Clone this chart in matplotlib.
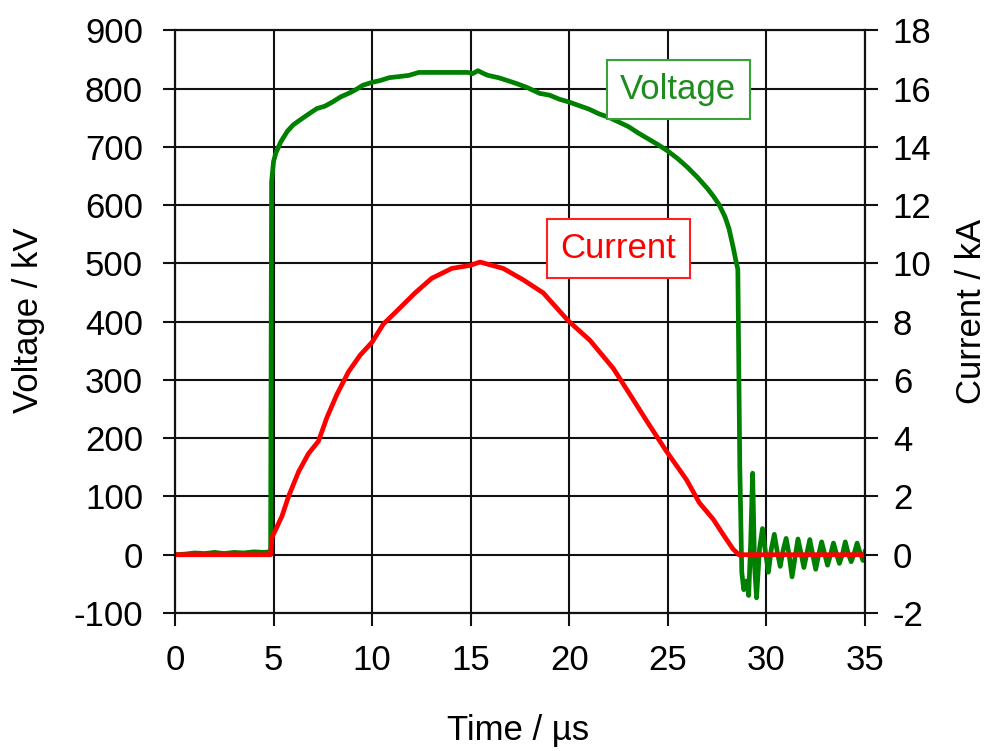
import matplotlib.pyplot as plt
from matplotlib.ticker import MultipleLocator

# voltage trace (kV) vs time (us)
t_v = [0, 0.5, 1.0, 1.5, 2.0, 2.5, 3.0, 3.5, 4.0, 4.5, 4.8,
       4.85, 4.9, 5.0, 5.12, 5.37, 5.7, 6.0, 6.37, 6.8, 7.2,
       7.6, 8.03, 8.4, 8.87, 9.2, 9.53, 10.0, 10.4, 10.87, 11.4,
       11.87, 12.37, 13.0, 13.5, 14.0, 14.5, 14.87, 15.1, 15.37, 15.6,
       15.87, 16.4, 16.87, 17.4, 17.87, 18.5, 19.0, 19.5, 20.0, 20.5,
       21.0, 21.5, 22.0, 22.5, 23.0, 23.5, 24.0, 24.5, 25.0, 25.5,
       26.0, 26.5, 27.0, 27.3, 27.6, 27.9, 28.1, 28.3, 28.45, 28.55,
       28.65, 28.75, 28.85, 29.0, 29.1, 29.2, 29.3, 29.4, 29.5, 29.65,
       29.8, 29.95, 30.1, 30.25, 30.4, 30.55, 30.7, 30.85, 31.0, 31.15,
       31.3, 31.45, 31.6, 31.75, 31.9, 32.05, 32.2, 32.35, 32.5, 32.65,
       32.8, 32.95, 33.1, 33.25, 33.4, 33.55, 33.7, 33.85, 34.0, 34.15,
       34.3, 34.45, 34.6, 34.75, 34.9, 35.0]
voltage = [0, 1, 3, 2, 4, 2, 4, 3, 5, 4, 5,
           5, 640, 675, 690, 709, 727, 738, 747, 757, 766,
           770, 778, 786, 793, 799, 806, 811, 814, 819, 821,
           823, 828, 828, 828, 828, 828, 828, 826, 831, 827,
           823, 819, 814, 808, 802, 792, 789, 782, 777, 771,
           765, 757, 751, 743, 735, 724, 714, 704, 693, 680,
           665, 648, 629, 616, 601, 580, 560, 530, 505, 490,
           150, -30, -60, -45, -70, 20, 140, -20, -74, 10,
           45, 5, -30, 10, 35, 5, -20, 8, 28, 0,
           -38, -5, 27, 3, -22, 2, 26, 0, -25, 0,
           22, 2, -18, 0, 20, 2, -15, 0, 22, 2,
           -12, 2, 20, 3, -10, 5]

# current trace (kA) vs time (us)
t_i = [0, 4.85, 4.92, 5.1, 5.43, 5.76, 6.27, 6.77, 7.28, 7.7,
       8.21, 8.8, 9.39, 10.0, 10.57, 11.33, 12.18, 13.02, 14.04, 15.0,
       15.47, 16.0, 16.65, 17.66, 18.68, 19.95, 21.05, 22.23, 23.08, 23.92,
       24.9, 25.95, 26.6, 27.3, 27.8, 28.3, 28.6, 35.0]
current = [0, 0, 0.6, 0.85, 1.33, 2.0, 2.85, 3.47, 3.9, 4.7,
           5.5, 6.28, 6.85, 7.3, 7.92, 8.42, 8.99, 9.49, 9.83, 9.94,
           10.05, 9.95, 9.83, 9.44, 8.99, 8.03, 7.36, 6.4, 5.5, 4.6,
           3.58, 2.57, 1.78, 1.22, 0.7, 0.2, 0, 0]

plt.rcParams['font.family'] = ['Liberation Sans', 'DejaVu Sans']
plt.rcParams['axes.unicode_minus'] = False
fs = 25
dark = '#111111'

fig = plt.figure(figsize=(9.88, 7.51), dpi=100)
ax = fig.add_axes([0.1771, 0.1838, 0.6984, 0.7756])
ax2 = ax.twinx()

ax.plot(t_v, voltage, color='#008000', lw=3.4, solid_joinstyle='round')
ax2.plot(t_i, current, color='#ff0000', lw=3.4, solid_joinstyle='round')

ax.set_xlim(0, 35)
ax.set_ylim(-100, 900)
ax2.set_ylim(-2, 18)
ax.xaxis.set_major_locator(MultipleLocator(5))
ax.yaxis.set_major_locator(MultipleLocator(100))
ax2.yaxis.set_major_locator(MultipleLocator(2))
ax.grid(True, color=dark, lw=1.5)

for a in (ax, ax2):
    for s in a.spines.values():
        s.set_color(dark)
        s.set_linewidth(1.5)
ax.tick_params(axis='y', length=9, width=1.5, color=dark, pad=14, labelsize=fs)
ax.tick_params(axis='x', length=9, width=1.5, color=dark, pad=13, labelsize=fs)
ax2.tick_params(axis='y', length=9, width=1.5, color=dark, pad=11, labelsize=fs)

fig.text(0.029, 0.574, 'Voltage / kV', rotation=90, ha='center', va='center', fontsize=fs)
fig.text(0.983, 0.585, 'Current / kA', rotation=90, ha='center', va='center', fontsize=fs)
fig.text(0.524, 0.027, 'Time / µs', ha='center', va='center', fontsize=fs)

ax.text(0.6865, 0.881, 'Voltage', transform=fig.transFigure, ha='center', va='center',
        fontsize=fs, color='#1e8c1e',
        bbox=dict(boxstyle='square,pad=0.38', fc='white', ec='#3aa03a', lw=1.5))
ax.text(0.626, 0.669, 'Current', transform=fig.transFigure, ha='center', va='center',
        fontsize=fs, color='#ff0000',
        bbox=dict(boxstyle='square,pad=0.38', fc='white', ec='#ff2020', lw=1.5))

fig.savefig('out.png', dpi=100, facecolor='w')
